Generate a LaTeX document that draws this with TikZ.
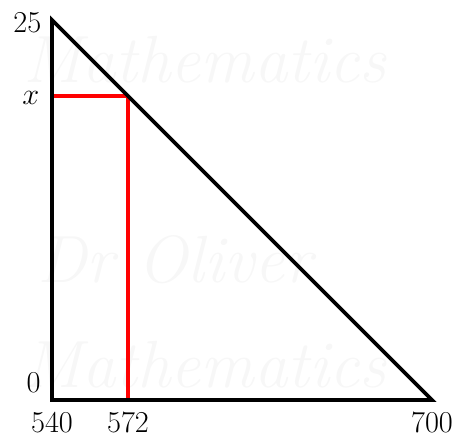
\documentclass[tikz,border=0pt]{standalone}
\usepackage{amsmath}
\usepackage{tikz}
\usetikzlibrary{positioning}

\begin{document}
\begin{tikzpicture}
[corner/.style={inner sep=0pt,minimum size=0pt},
 lbl/.style={font=\LARGE,inner sep=0pt},
 watermark/.style={font=\fontsize{38}{38}\selectfont\itshape,text=black!3},
 side/.style={line width=2.2pt},
 guide/.style={line width=1.8pt,red}]
\useasboundingbox (0,0) rectangle (9.12,8.74);
% watermark
\node[watermark] (wm1) at (4.1,7.54) {Mathematics};
\node[watermark] (wm2) at (3.5,3.54) {Dr Oliver};
\node[watermark] (wm3) at (4.1,1.44) {Mathematics};
\begin{scope}[shift={(1.04,0.74)},x=0.0475cm,y=0.304cm]
\node[corner] (a) at (0,0) [label={[lbl,label distance=0.24cm]below:$540$}] {};
\node[corner] (b) at (0,25) [label={[lbl,label distance=0.2cm,yshift=-0.06cm]left:$25$}] {};
\node[corner] (c) at (160,0) [label={[lbl,label distance=0.24cm]below:$700$}] {};
\node[corner] (q) at (32,0) [label={[lbl,label distance=0.24cm]below:$572$}] {};
\node[corner] (p) at (32,20) {};
\node[corner] (r) at (0,20) [label={[lbl,label distance=0.24cm,yshift=-0.04cm]left:$x$}] {};
\node[lbl,anchor=east] (zero) at (-0.22cm,0.34cm) {$0$};
\end{scope}

\draw [guide] (r.center) -- (p.center);
\draw [guide] (p.center) -- (q.center);
\draw [side] (a.center) -- (b.center) -- (c.center) -- cycle;
\end{tikzpicture}
\end{document}
